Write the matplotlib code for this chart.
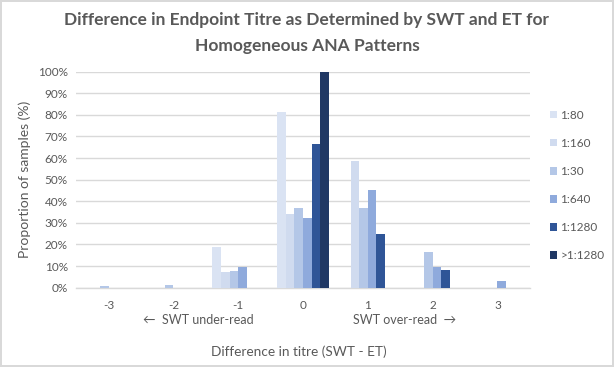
import numpy as np
import matplotlib
matplotlib.use("Agg")
import matplotlib.pyplot as plt

# difference in titre (SWT - ET)
categories = [-3, -2, -1, 0, 1, 2, 3]
tick_labels = ["-3", "-2", "-1", "0", "1", "2", "3"]

# proportion of samples (%) per ET titre
titre_1_80 = [0, 0, 18.9, 81.1, 0, 0, 0]
titre_1_160 = [0, 0, 7.3, 34.1, 58.6, 0, 0]
titre_1_30 = [0.6, 1.2, 7.9, 37.1, 37.0, 16.3, 0]
titre_1_640 = [0, 0, 9.7, 32.3, 45.2, 9.7, 3.2]
titre_1_1280 = [0, 0, 0, 66.7, 25.0, 8.2, 0]
titre_gt_1280 = [0, 0, 0, 100, 0, 0, 0]

series_names = ["1:80", "1:160", "1:30", "1:640", "1:1280", ">1:1280"]
series = [titre_1_80, titre_1_160, titre_1_30, titre_1_640, titre_1_1280, titre_gt_1280]
colors = ["#DAE3F3", "#D0DBEF", "#B4C7E7", "#8FAADC", "#2F5597", "#203864"]

txt = "#595959"
grid = "#D9D9D9"
plt.rcParams["font.family"] = ["Lato", "DejaVu Sans"]

fig = plt.figure(figsize=(6.14, 3.67), dpi=100, facecolor="white",
                 edgecolor=grid, linewidth=1.5)
ax = fig.add_axes([0.124, 0.216, 0.739, 0.589])

x = np.arange(len(categories))
w = 1 / 7.5
for i, (vals, name, c) in enumerate(zip(series, series_names, colors)):
    ax.bar(x + (i - 2.5) * w, vals, width=w, color=c, label=name, zorder=3)

ax.set_xlim(-0.5, len(categories) - 0.5)
ax.set_ylim(0, 100)
ax.set_yticks(np.arange(0, 101, 10))
ax.set_yticklabels([f"{v}%" for v in range(0, 101, 10)])
ax.set_xticks(x)
ax.set_xticklabels(tick_labels)
ax.tick_params(axis="both", length=0, labelsize=8.5, colors=txt)
ax.tick_params(axis="x", pad=9)
ax.tick_params(axis="y", pad=6)
ax.yaxis.grid(True, color=grid, linewidth=1, zorder=0)
for s in ["top", "right", "left"]:
    ax.spines[s].set_visible(False)
ax.spines["bottom"].set_color(grid)
ax.spines["bottom"].set_linewidth(1)

ax.set_ylabel("Proportion of samples (%)", fontsize=10, color=txt, labelpad=5)

fig.text(0.5, 0.945, "Difference in Endpoint Titre as Determined by SWT and ET for",
         ha="center", va="center", fontsize=12.5, fontweight="bold", color=txt)
fig.text(0.5, 0.875, "Homogeneous ANA Patterns",
         ha="center", va="center", fontsize=12.5, fontweight="bold", color=txt)

fig.text(198 / 614, 1 - 320 / 367, "\u2190  SWT under-read", ha="center", va="center",
         fontsize=9, color=txt, family=["Lato", "DejaVu Sans"])
fig.text(405 / 614, 1 - 320 / 367, "SWT over-read  \u2192", ha="center", va="center",
         fontsize=9, color=txt, family=["Lato", "DejaVu Sans"])
fig.text(299 / 614, 1 - 352 / 367, "Difference in titre (SWT - ET)", ha="center",
         va="center", fontsize=9.8, color=txt)

ax.legend(loc="upper left", bbox_to_anchor=(545 / 614, 1 - 105 / 367),
          bbox_transform=fig.transFigure, frameon=False, fontsize=8.5,
          labelcolor=txt, handlelength=0.6, handleheight=0.6, handletextpad=0.3,
          labelspacing=1.45, borderaxespad=0)

fig.savefig("out.png", dpi=100, facecolor="white", edgecolor=grid)
